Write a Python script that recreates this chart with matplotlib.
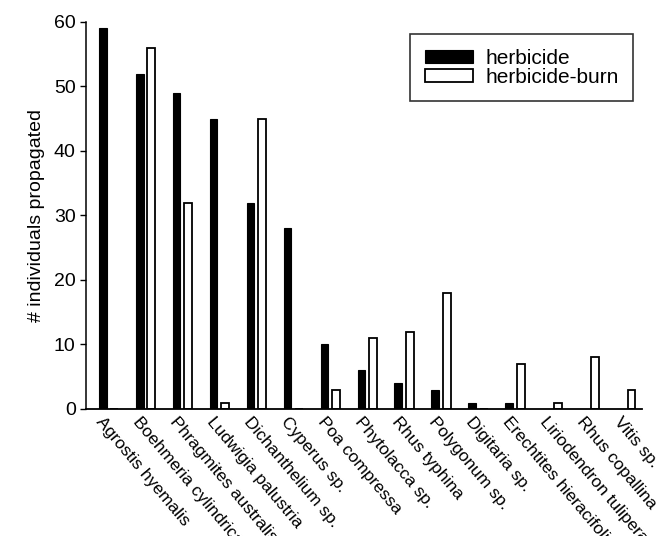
import matplotlib.pyplot as plt
import numpy as np

plt.rcParams['font.family'] = ['Liberation Sans', 'DejaVu Sans']

species = ["Agrostis hyemalis", "Boehmeria cylindrica", "Phragmites australis",
           "Ludwigia palustria", "Dichanthelium sp.", "Cyperus sp.", "Poa compressa",
           "Phytolacca sp.", "Rhus typhina", "Polygonum sp.", "Digitaria sp.",
           "Erechtites hieracifolia", "Liriodendron tulipera", "Rhus copallina",
           "Vitis sp."]
herbicide = [59, 52, 49, 45, 32, 28, 10, 6, 4, 3, 1, 1, 0, 0, 0]
herbicide_burn = [0, 56, 32, 1, 45, 0, 3, 11, 12, 18, 0, 7, 1, 8, 3]

fig = plt.figure(figsize=(6.67, 5.36), dpi=100)
ax = fig.add_axes([0.129, 0.237, 0.834, 0.722])

x = np.arange(len(species))
w = 0.21
ax.bar(x, herbicide, width=w, color='black', edgecolor='black', linewidth=0.8,
       label='herbicide')
ax.bar(x + 0.31, herbicide_burn, width=w, color='white', edgecolor='black',
       linewidth=1.3, label='herbicide-burn')

ax.set_xlim(-0.45, 14.6)
ax.set_ylim(0, 60)
ax.set_yticks(range(0, 61, 10))
ax.tick_params(axis='y', labelsize=14, length=4, width=1)
ax.set_xticks(x + 0.05)
ax.set_xticklabels(species, rotation=-50, ha='left', va='top',
                   rotation_mode='anchor', fontsize=12.5)
ax.tick_params(axis='x', length=0, pad=4)
ax.spines['top'].set_visible(False)
ax.spines['right'].set_visible(False)
ax.spines['left'].set_linewidth(1.1)
ax.spines['bottom'].set_linewidth(1.3)
ax.set_ylabel('# individuals propagated', fontsize=14, labelpad=6)

leg = ax.legend(loc='upper right', bbox_to_anchor=(1.002, 0.995), fontsize=15,
                frameon=True, fancybox=False, edgecolor='black', handlelength=2.3,
                handleheight=0.6, borderpad=0.7, labelspacing=0.0, handletextpad=0.6)
leg.get_frame().set_linewidth(1.2)

fig.savefig('out.png', dpi=100)
